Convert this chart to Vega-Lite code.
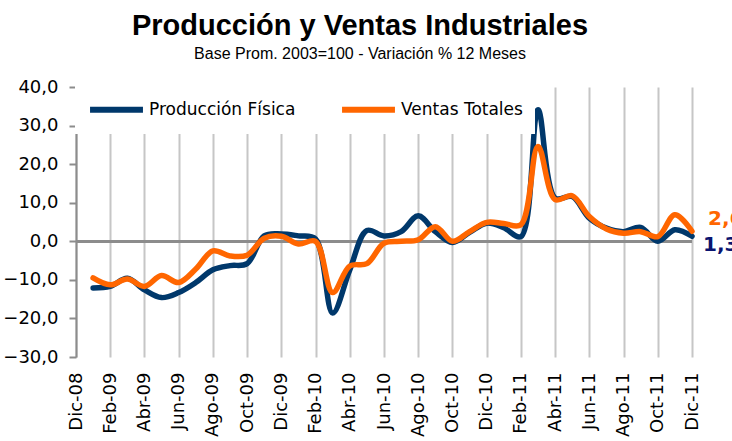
{
  "$schema": "https://vega.github.io/schema/vega-lite/v6.json",
  "autosize": {"type": "none"},
  "width": 616,
  "height": 270,
  "padding": {"left": 76, "top": 87, "right": 40, "bottom": 84},
  "background": "white",
  "title": {
    "text": "Producción y Ventas Industriales",
    "subtitle": "Base Prom. 2003=100 - Variación % 12 Meses",
    "anchor": "middle",
    "dx": -24,
    "offset": 6,
    "font": "Liberation Sans",
    "fontSize": 29,
    "fontWeight": "bold",
    "color": "black",
    "subtitleFont": "Liberation Sans",
    "subtitleFontSize": 16,
    "subtitleColor": "black",
    "subtitlePadding": 5
  },
  "datasets": {
    "series": [
      {"m": "Ene-09", "s": "Producción Física", "v": -12.1},
      {"m": "Feb-09", "s": "Producción Física", "v": -11.7},
      {"m": "Mar-09", "s": "Producción Física", "v": -9.6},
      {"m": "Abr-09", "s": "Producción Física", "v": -12.6},
      {"m": "May-09", "s": "Producción Física", "v": -14.6},
      {"m": "Jun-09", "s": "Producción Física", "v": -13.3},
      {"m": "Jul-09", "s": "Producción Física", "v": -10.7},
      {"m": "Ago-09", "s": "Producción Física", "v": -7.4},
      {"m": "Sep-09", "s": "Producción Física", "v": -6.3},
      {"m": "Oct-09", "s": "Producción Física", "v": -5.8},
      {"m": "Nov-09", "s": "Producción Física", "v": 1.4},
      {"m": "Dic-09", "s": "Producción Física", "v": 1.9},
      {"m": "Ene-10", "s": "Producción Física", "v": 1.4},
      {"m": "Feb-10", "s": "Producción Física", "v": 0.6},
      {"m": "Mar-10", "s": "Producción Física", "v": -18.6},
      {"m": "Abr-10", "s": "Producción Física", "v": -7.4},
      {"m": "May-10", "s": "Producción Física", "v": 2.8},
      {"m": "Jun-10", "s": "Producción Física", "v": 1.4},
      {"m": "Jul-10", "s": "Producción Física", "v": 2.5},
      {"m": "Ago-10", "s": "Producción Física", "v": 6.6},
      {"m": "Sep-10", "s": "Producción Física", "v": 2.5},
      {"m": "Oct-10", "s": "Producción Física", "v": -0.3},
      {"m": "Nov-10", "s": "Producción Física", "v": 2.3},
      {"m": "Dic-10", "s": "Producción Física", "v": 4.7},
      {"m": "Ene-11", "s": "Producción Física", "v": 3.5},
      {"m": "Feb-11", "s": "Producción Física", "v": 1.2},
      {"m": "Mar-11", "s": "Producción Física", "v": 34.1},
      {"m": "Abr-11", "s": "Producción Física", "v": 11.2},
      {"m": "May-11", "s": "Producción Física", "v": 11.6},
      {"m": "Jun-11", "s": "Producción Física", "v": 6.0},
      {"m": "Jul-11", "s": "Producción Física", "v": 3.4},
      {"m": "Ago-11", "s": "Producción Física", "v": 2.5},
      {"m": "Sep-11", "s": "Producción Física", "v": 3.6},
      {"m": "Oct-11", "s": "Producción Física", "v": 0.0},
      {"m": "Nov-11", "s": "Producción Física", "v": 3.0},
      {"m": "Dic-11", "s": "Producción Física", "v": 1.3},
      {"m": "Ene-09", "s": "Ventas Totales", "v": -9.5},
      {"m": "Feb-09", "s": "Ventas Totales", "v": -11.3},
      {"m": "Mar-09", "s": "Ventas Totales", "v": -9.8},
      {"m": "Abr-09", "s": "Ventas Totales", "v": -11.7},
      {"m": "May-09", "s": "Ventas Totales", "v": -8.9},
      {"m": "Jun-09", "s": "Ventas Totales", "v": -10.7},
      {"m": "Jul-09", "s": "Ventas Totales", "v": -7.2},
      {"m": "Ago-09", "s": "Ventas Totales", "v": -2.5},
      {"m": "Sep-09", "s": "Ventas Totales", "v": -3.8},
      {"m": "Oct-09", "s": "Ventas Totales", "v": -3.6},
      {"m": "Nov-09", "s": "Ventas Totales", "v": 0.8},
      {"m": "Dic-09", "s": "Ventas Totales", "v": 1.3},
      {"m": "Ene-10", "s": "Ventas Totales", "v": -0.7},
      {"m": "Feb-10", "s": "Ventas Totales", "v": 0.0},
      {"m": "Mar-10", "s": "Ventas Totales", "v": -13.3},
      {"m": "Abr-10", "s": "Ventas Totales", "v": -6.4},
      {"m": "May-10", "s": "Ventas Totales", "v": -5.8},
      {"m": "Jun-10", "s": "Ventas Totales", "v": -0.5},
      {"m": "Jul-10", "s": "Ventas Totales", "v": 0.0},
      {"m": "Ago-10", "s": "Ventas Totales", "v": 0.4},
      {"m": "Sep-10", "s": "Ventas Totales", "v": 3.8},
      {"m": "Oct-10", "s": "Ventas Totales", "v": 0.0},
      {"m": "Nov-10", "s": "Ventas Totales", "v": 2.5},
      {"m": "Dic-10", "s": "Ventas Totales", "v": 4.9},
      {"m": "Ene-11", "s": "Ventas Totales", "v": 4.6},
      {"m": "Feb-11", "s": "Ventas Totales", "v": 4.3},
      {"m": "Mar-11", "s": "Ventas Totales", "v": 24.6},
      {"m": "Abr-11", "s": "Ventas Totales", "v": 10.8},
      {"m": "May-11", "s": "Ventas Totales", "v": 11.8},
      {"m": "Jun-11", "s": "Ventas Totales", "v": 6.4},
      {"m": "Jul-11", "s": "Ventas Totales", "v": 3.2},
      {"m": "Ago-11", "s": "Ventas Totales", "v": 2.1},
      {"m": "Sep-11", "s": "Ventas Totales", "v": 2.5},
      {"m": "Oct-11", "s": "Ventas Totales", "v": 1.2},
      {"m": "Nov-11", "s": "Ventas Totales", "v": 6.9},
      {"m": "Dic-11", "s": "Ventas Totales", "v": 2.6}
    ],
    "ticks": [
      {"m": "Dic-08"}, {"m": "Feb-09"}, {"m": "Abr-09"}, {"m": "Jun-09"}, {"m": "Ago-09"}, {"m": "Oct-09"},
      {"m": "Dic-09"}, {"m": "Feb-10"}, {"m": "Abr-10"}, {"m": "Jun-10"}, {"m": "Ago-10"}, {"m": "Oct-10"},
      {"m": "Dic-10"}, {"m": "Feb-11"}, {"m": "Abr-11"}, {"m": "Jun-11"}, {"m": "Ago-11"}, {"m": "Oct-11"}, {"m": "Dic-11"}
    ]
  },
  "data": {"name": "series"},
  "encoding": {
    "x": {
      "field": "m",
      "type": "ordinal",
      "scale": {
        "type": "point",
        "padding": 0,
        "domain": ["Dic-08","Ene-09","Feb-09","Mar-09","Abr-09","May-09","Jun-09","Jul-09","Ago-09","Sep-09","Oct-09","Nov-09",
                   "Dic-09","Ene-10","Feb-10","Mar-10","Abr-10","May-10","Jun-10","Jul-10","Ago-10","Sep-10","Oct-10","Nov-10",
                   "Dic-10","Ene-11","Feb-11","Mar-11","Abr-11","May-11","Jun-11","Jul-11","Ago-11","Sep-11","Oct-11","Nov-11","Dic-11"]
      },
      "axis": {
        "title": null,
        "values": ["Dic-08","Feb-09","Abr-09","Jun-09","Ago-09","Oct-09","Dic-09","Feb-10","Abr-10","Jun-10","Ago-10","Oct-10","Dic-10","Feb-11","Abr-11","Jun-11","Ago-11","Oct-11","Dic-11"],
        "labelAngle": -90,
        "labelFont": "DejaVu Sans",
        "labelFontSize": 18,
        "labelColor": "black",
        "labelPadding": 15,
        "domain": false,
        "ticks": false,
        "grid": true,
        "gridColor": "#C6C6C6",
        "gridWidth": 2
      }
    },
    "y": {
      "field": "v",
      "type": "quantitative",
      "scale": {"domain": [-30, 40], "nice": false, "zero": false},
      "axis": {
        "title": null,
        "values": [-30, -20, -10, 0, 10, 20, 30, 40],
        "format": ".1f",
        "grid": false,
        "domainColor": "#8C8C8C",
        "domainWidth": 2,
        "tickColor": "#8C8C8C",
        "tickWidth": 2,
        "tickSize": 7,
        "labelFont": "DejaVu Sans",
        "labelFontSize": 18,
        "labelColor": "black",
        "labelPadding": 11
      }
    }
  },
  "layer": [
    {
      "data": {"name": "ticks"},
      "mark": {"type": "rule", "color": "#8C8C8C", "strokeWidth": 2},
      "encoding": {"y": {"datum": 0}, "y2": {"datum": -1.8}}
    },
    {
      "mark": {"type": "rule", "color": "#8C8C8C", "strokeWidth": 2},
      "encoding": {"x": null, "y": {"datum": 0}}
    },
    {
      "mark": {"type": "line", "strokeWidth": 5.5, "interpolate": "catmull-rom", "strokeCap": "round", "strokeJoin": "round"},
      "encoding": {
        "color": {
          "field": "s",
          "type": "nominal",
          "scale": {"domain": ["Producción Física", "Ventas Totales"], "range": ["#00386B", "#FF6600"]},
          "legend": {
            "title": null,
            "orient": "none",
            "legendX": -1,
            "legendY": -19,
            "padding": 12,
            "fillColor": "white",
            "direction": "horizontal",
            "symbolType": "stroke",
            "symbolSize": 2800,
            "symbolStrokeWidth": 6,
            "labelFont": "DejaVu Sans",
            "labelFontSize": 17,
            "labelColor": "black",
            "labelOffset": 3,
            "columnPadding": 34,
            "labelLimit": 400
          }
        }
      }
    },
    {
      "transform": [{"filter": "datum.m === 'Dic-11' && datum.s === 'Ventas Totales'"}],
      "mark": {"type": "text", "align": "left", "baseline": "middle", "dx": 16, "dy": -12, "font": "DejaVu Sans", "fontSize": 20, "fontWeight": "bold", "color": "#FF6600"},
      "encoding": {"text": {"field": "v", "type": "quantitative", "format": ".1f"}}
    },
    {
      "transform": [{"filter": "datum.m === 'Dic-11' && datum.s === 'Producción Física'"}],
      "mark": {"type": "text", "align": "left", "baseline": "middle", "dx": 11, "dy": 9, "font": "DejaVu Sans", "fontSize": 20, "fontWeight": "bold", "color": "#0A1470"},
      "encoding": {"text": {"field": "v", "type": "quantitative", "format": ".1f"}}
    }
  ],
  "config": {
    "view": {"stroke": null},
    "locale": {"number": {"decimal": ",", "thousands": ".", "grouping": [3], "currency": ["", " €"]}}
  }
}
